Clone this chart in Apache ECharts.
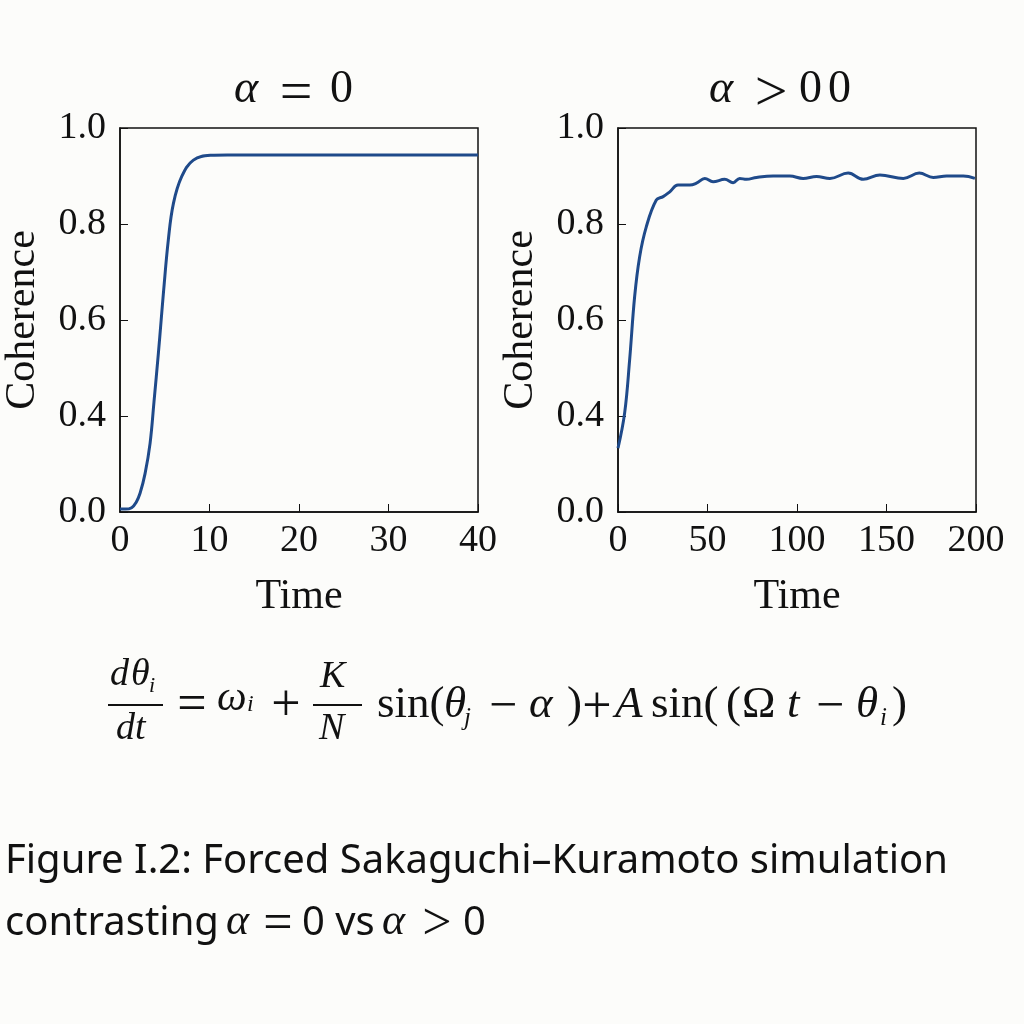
<!DOCTYPE html>
<html><head><meta charset="utf-8">
<script src="https://cdn.jsdelivr.net/npm/echarts@6/dist/echarts.min.js"></script>
<style>html,body{margin:0;padding:0;background:#fcfcfa;}#c{width:1024px;height:1024px;}</style>
</head><body><div id="c"></div>
<script>
// ---- data ----
const leftTime = [0, 0.6, 1.3, 1.8, 2.24, 2.8, 3.36, 3.8, 4.29, 4.6, 4.85, 5.4, 5.97, 6.9, 8.2, 10.1, 12, 15, 20, 25, 30, 35, 40];
const leftCoh  = [0.206, 0.206, 0.209, 0.22, 0.239, 0.28, 0.343, 0.43, 0.531, 0.6, 0.656, 0.767, 0.843, 0.899, 0.933, 0.943, 0.944, 0.944, 0.944, 0.944, 0.944, 0.944, 0.944];
const rightTime = [0, 3.7, 6.5, 9.3, 12.1, 15.8, 21.4, 25.2, 28.9, 33.5, 40.1, 43.8, 48.5, 53.1, 59.6, 64.3, 68, 71.8, 77.4, 86.7, 96, 103.4, 110.9, 118.4, 128.6, 137, 146.3, 159.4, 168.3, 176.1, 183.6, 192.9, 199.4];
const rightCoh  = [0.333, 0.406, 0.517, 0.649, 0.732, 0.794, 0.85, 0.857, 0.867, 0.881, 0.881, 0.885, 0.895, 0.888, 0.893, 0.886, 0.895, 0.893, 0.897, 0.9, 0.9, 0.895, 0.899, 0.895, 0.906, 0.893, 0.902, 0.895, 0.906, 0.897, 0.9, 0.9, 0.895];
const yTickValues = [0.2, 0.4, 0.6, 0.8, 1.0];
const yTickLabels = ["0.0", "0.4", "0.6", "0.8", "1.0"];
const leftXTicks = [0, 10, 20, 30, 40];
const rightXTicks = [0, 50, 100, 150, 200];
const yName = "Coherence";
const xName = "Time";
const captionLine1 = "Figure I.2: Forced Sakaguchi–Kuramoto simulation";

const SERIF = '"Liberation Serif", "DejaVu Serif", serif';
const SANS = '"Noto Sans", "DejaVu Sans", sans-serif';
const INK = '#111';
const lineColor = '#1f4a8a';

function yLabel(v) {
  for (let i = 0; i < yTickValues.length; i++) if (Math.abs(v - yTickValues[i]) < 1e-6) return yTickLabels[i];
  return '';
}
function xAx(idx, ticks) {
  return {
    type: 'value', gridIndex: idx, min: ticks[0], max: ticks[ticks.length - 1], interval: ticks[1] - ticks[0],
    name: xName, nameLocation: 'middle', nameGap: 64,
    nameTextStyle: { fontFamily: SERIF, fontSize: 42, color: INK },
    axisLine: { show: true, lineStyle: { color: INK, width: 1.5 } },
    axisTick: { show: true, inside: true, length: 8, lineStyle: { color: INK, width: 1 } },
    axisLabel: { fontFamily: SERIF, fontSize: 38, color: INK, margin: 10 },
    splitLine: { show: false }
  };
}
function yAx(idx) {
  return {
    type: 'value', gridIndex: idx, min: yTickValues[0], max: yTickValues[yTickValues.length - 1], interval: 0.2,
    name: yName, nameLocation: 'middle', nameGap: 76,
    nameTextStyle: { fontFamily: SERIF, fontSize: 42, color: INK },
    axisLine: { show: true, lineStyle: { color: INK, width: 1.5 } },
    axisTick: { show: true, inside: true, length: 8, lineStyle: { color: INK, width: 1 } },
    axisLabel: { fontFamily: SERIF, fontSize: 38, color: INK, margin: 14, formatter: yLabel },
    splitLine: { show: false }
  };
}
function lineSeries(idx, xs, ys) {
  return {
    type: 'line', xAxisIndex: idx, yAxisIndex: idx, data: xs.map((x, i) => [x, ys[i]]),
    smooth: 0.4, showSymbol: false, symbol: 'none',
    lineStyle: { color: lineColor, width: 3 }, z: 3
  };
}
// text token: left x, baseline y
function tok(text, x, base, size, italic, family) {
  return { type: 'text', z: 10, style: {
    text: text, x: x, y: base - 0.33 * size, align: 'left', verticalAlign: 'middle',
    fontFamily: family || SERIF, fontSize: size, fontStyle: italic ? 'italic' : 'normal', fill: INK } };
}
// operator symbol centred at (cx, cy)
function sym(text, cx, cy, size) {
  return { type: 'text', z: 10, style: {
    text: text, x: cx, y: cy + 0.06 * size, align: 'center', verticalAlign: 'middle',
    fontFamily: SERIF, fontSize: size, fill: INK } };
}
function bar(x1, x2, y) {
  return { type: 'line', z: 10, shape: { x1: x1, y1: y, x2: x2, y2: y }, style: { stroke: INK, lineWidth: 2 } };
}

const graphics = [
  // titles
  tok('α', 234, 105, 46, true), sym('=', 296, 91, 58), tok('0', 330, 105, 46),
  tok('α', 709, 105, 46, true), sym('>', 771, 91, 58), tok('0', 799, 105, 46), tok('0', 828, 105, 46),
  // equation: d theta_i / dt
  tok('d', 110, 688, 38, true), tok('θ', 131, 688, 38, true), tok('i', 149, 693, 22, true),
  bar(108, 163, 705),
  tok('dt', 116, 742, 38, true),
  sym('=', 192, 703, 52), tok('ω', 217, 713, 42, true), tok('i', 247, 713, 24, true), sym('+', 286, 703, 52),
  tok('K', 320, 690, 38, true), bar(313, 362, 705), tok('N', 319, 742, 38, true),
  tok('sin(', 377, 720, 45), tok('θ', 444, 720, 45, true), tok('j', 464, 727, 25, true),
  sym('−', 503, 705, 50), tok('α', 529, 720, 45, true), tok(')', 567, 720, 45),
  sym('+', 597, 705, 52), tok('A', 615, 720, 45, true),
  tok('sin(', 651, 720, 45), tok('(', 726, 720, 45), tok('Ω', 742, 720, 45),
  tok('t', 787, 720, 45, true), sym('−', 830, 705, 50), tok('θ', 856, 720, 45, true),
  tok('i', 880, 727, 25, true), tok(')', 892, 720, 45),
  // caption
  { type: 'text', z: 10, left: 5, top: 842, style: { text: captionLine1, fontFamily: SANS, fontSize: 40, fill: INK } },
  tok('contrasting', 5, 937, 40, false, SANS),
  tok('α', 226, 937, 44, true), sym('=', 278, 922, 52), tok('0 vs', 302, 937, 40, false, SANS),
  tok('α', 382, 937, 44, true), sym('>', 437, 922, 52), tok('0', 463, 937, 40, false, SANS)
];

const chart = echarts.init(document.getElementById('c'));
chart.setOption({
  backgroundColor: '#fcfcfa',
  animation: false,
  grid: [
    { left: 120, top: 128, width: 358, height: 384, show: true, borderColor: INK, borderWidth: 1.5, backgroundColor: 'transparent', containLabel: false, outerBoundsMode: 'none' },
    { left: 618, top: 128, width: 358, height: 384, show: true, borderColor: INK, borderWidth: 1.5, backgroundColor: 'transparent', containLabel: false, outerBoundsMode: 'none' }
  ],
  xAxis: [xAx(0, leftXTicks), xAx(1, rightXTicks)],
  yAxis: [yAx(0), yAx(1)],
  series: [lineSeries(0, leftTime, leftCoh), lineSeries(1, rightTime, rightCoh)],
  graphic: graphics
});
</script></body></html>
